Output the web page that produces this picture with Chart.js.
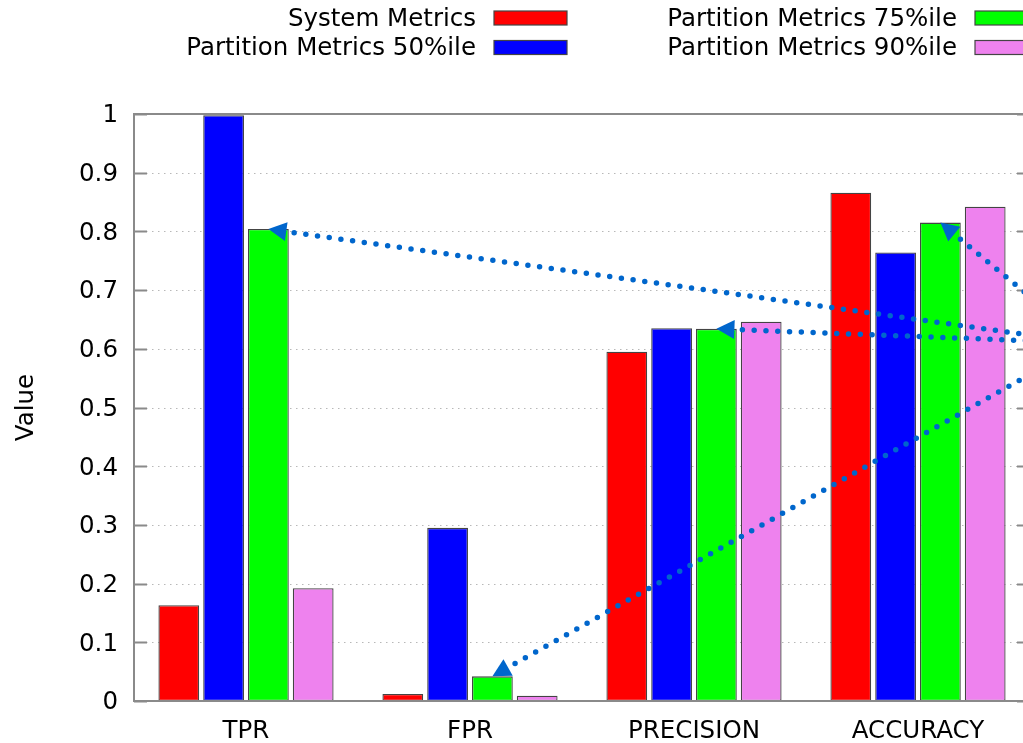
<!DOCTYPE html>
<html>
<head>
<meta charset="utf-8">
<script src="https://cdn.jsdelivr.net/npm/chart.js@4/dist/chart.umd.min.js"></script>
<style>
  html, body { margin: 0; padding: 0; overflow: hidden; background: #ffffff; }
  canvas { display: block; }
</style>
</head>
<body>
<canvas id="chart" width="1100" height="743"></canvas>
<script>
// Metric categories and the four series plotted for each
const categories = ['TPR', 'FPR', 'PRECISION', 'ACCURACY'];
const seriesNames = ['System Metrics', 'Partition Metrics 50%ile', 'Partition Metrics 75%ile', 'Partition Metrics 90%ile'];
const seriesColors = ['#ff0000', '#0000ff', '#00ff00', '#ee82ee'];

const systemMetrics = [0.163, 0.012, 0.595, 0.866];
const partition50 = [0.998, 0.295, 0.635, 0.764];
const partition75 = [0.804, 0.042, 0.634, 0.815];
const partition90 = [0.192, 0.009, 0.646, 0.842];

const yTickLabels = ['0', '0.1', '0.2', '0.3', '0.4', '0.5', '0.6', '0.7', '0.8', '0.9', '1'];

// Common origin of the annotation arrows (category units, value units);
// every arrow ends on top of a 75%ile bar
const arrowOrigin = { x: 3.75, y: 0.61 };

const FONT = '"DejaVu Sans", sans-serif';
const AXIS_GRAY = '#8a8a8a';
const ARROW_BLUE = '#0066cc';

// Dotted horizontal grid, drawn behind the bars
const gridPlugin = {
  id: 'dottedGrid',
  beforeDatasetsDraw(chart) {
    const { ctx, chartArea: a, scales: { y } } = chart;
    ctx.save();
    ctx.strokeStyle = '#b8b8b8';
    ctx.lineWidth = 1;
    ctx.setLineDash([1.5, 4.5]);
    y.ticks.forEach(t => {
      const py = Math.round(y.getPixelForValue(t.value)) + 0.5;
      ctx.beginPath();
      ctx.moveTo(a.left, py);
      ctx.lineTo(a.right, py);
      ctx.stroke();
    });
    ctx.restore();
  }
};

function drawArrow(ctx, x0, y0, x1, y1) {
  const ang = Math.atan2(y1 - y0, x1 - x0);
  const c = Math.cos(ang), s = Math.sin(ang);
  const headLen = 18, headHalf = 9.5;
  const bx = x1 - headLen * c, by = y1 - headLen * s;
  ctx.save();
  ctx.strokeStyle = ARROW_BLUE;
  ctx.fillStyle = ARROW_BLUE;
  ctx.lineWidth = 5.5;
  ctx.lineCap = 'round';
  ctx.setLineDash([0, 11.8]);
  ctx.beginPath();
  ctx.moveTo(bx - 8 * c, by - 8 * s);
  ctx.lineTo(x0, y0);
  ctx.stroke();
  ctx.setLineDash([]);
  ctx.beginPath();
  ctx.moveTo(x1, y1);
  ctx.lineTo(bx + headHalf * s, by - headHalf * c);
  ctx.lineTo(bx - headHalf * s, by + headHalf * c);
  ctx.closePath();
  ctx.fill();
  ctx.restore();
}

// Frame, inward tick marks and annotation arrows, drawn over the bars
const framePlugin = {
  id: 'frameAndArrows',
  afterDatasetsDraw(chart) {
    const { ctx, chartArea: a, scales: { x, y } } = chart;
    ctx.save();
    ctx.strokeStyle = AXIS_GRAY;
    ctx.lineWidth = 2;
    ctx.strokeRect(a.left, a.top, a.right - a.left, a.bottom - a.top);
    y.ticks.forEach(t => {
      const py = Math.round(y.getPixelForValue(t.value)) + 0.5;
      ctx.beginPath();
      ctx.moveTo(a.left, py); ctx.lineTo(a.left + 13, py);
      ctx.moveTo(a.right, py); ctx.lineTo(a.right - 13, py);
      ctx.stroke();
    });
    ctx.restore();

    const ox = x.getPixelForValue(arrowOrigin.x);
    const oy = y.getPixelForValue(arrowOrigin.y);
    const meta = chart.getDatasetMeta(2);
    meta.data.forEach(bar => drawArrow(ctx, ox, oy, bar.x, bar.y));
  }
};

// Two-column key: right-aligned text followed by a colour swatch
const keyPlugin = {
  id: 'topKey',
  afterDraw(chart) {
    const { ctx } = chart;
    const colTextRight = [476, 957];
    const rowY = [18, 47.5];
    ctx.save();
    ctx.font = '24.5px ' + FONT;
    ctx.textAlign = 'right';
    ctx.textBaseline = 'middle';
    chart.data.datasets.forEach((ds, i) => {
      const col = Math.floor(i / 2), row = i % 2;
      const tx = colTextRight[col], ty = rowY[row];
      ctx.fillStyle = '#000';
      ctx.fillText(ds.label, tx, ty + 1.5);
      ctx.fillStyle = ds.backgroundColor;
      ctx.fillRect(tx + 18, ty - 7, 73, 14);
      ctx.strokeStyle = '#444';
      ctx.lineWidth = 1.2;
      ctx.strokeRect(tx + 18, ty - 7, 73, 14);
    });
    ctx.restore();
  }
};

const seriesValues = [systemMetrics, partition50, partition75, partition90];

new Chart(document.getElementById('chart'), {
  type: 'bar',
  data: {
    labels: categories,
    datasets: seriesValues.map((vals, i) => ({
      label: seriesNames[i],
      data: vals,
      backgroundColor: seriesColors[i],
      borderColor: '#444444',
      borderWidth: 1.3,
      borderSkipped: false,
      categoryPercentage: 0.8,
      barPercentage: 0.91
    }))
  },
  options: {
    responsive: false,
    animation: false,
    events: [],
    layout: { padding: { left: 0, top: 114, right: 70, bottom: 0 } },
    plugins: {
      legend: { display: false },
      tooltip: { enabled: false }
    },
    scales: {
      x: {
        grid: { display: false, drawTicks: false },
        border: { display: false },
        ticks: {
          color: '#000',
          font: { family: FONT, size: 24.5 },
          padding: 16,
          maxRotation: 0,
          autoSkip: false
        },
        afterFit(scale) { scale.height = 42; }
      },
      y: {
        min: 0,
        max: 1,
        grid: { display: false, drawTicks: false },
        border: { display: false },
        ticks: {
          stepSize: 0.1,
          color: '#000',
          font: { family: FONT, size: 24.5 },
          padding: 16,
          labelOffset: 2,
          callback: (value, index) => yTickLabels[index]
        },
        title: {
          display: true,
          text: 'Value',
          color: '#000',
          font: { family: FONT, size: 24.5 },
          padding: { top: 12, bottom: 0 }
        },
        afterFit(scale) { scale.width = 134; }
      }
    }
  },
  plugins: [gridPlugin, framePlugin, keyPlugin]
});
</script>
</body>
</html>
